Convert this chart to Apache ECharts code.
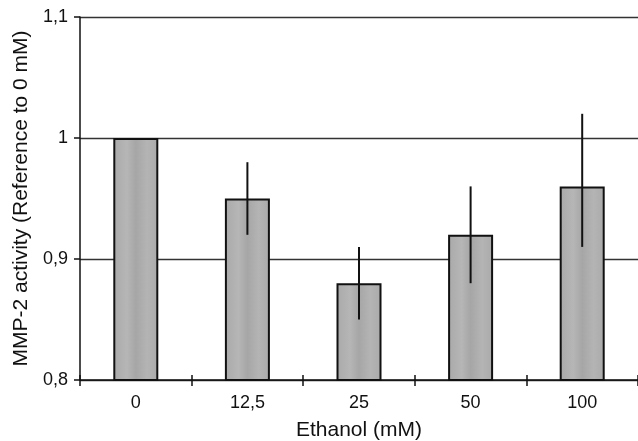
<!DOCTYPE html>
<html>
<head>
<meta charset="utf-8">
<script src="https://cdn.jsdelivr.net/npm/echarts@6/dist/echarts.min.js"></script>
<style>
  html, body { margin: 0; padding: 0; background: #fff; }
  #main { width: 638px; height: 441px; }
</style>
</head>
<body>
<div id="main"></div>
<script>
const categories = ["0", "12,5", "25", "50", "100"];
const activity = [1.0, 0.95, 0.88, 0.92, 0.96];
const errLow = [1.0, 0.92, 0.85, 0.88, 0.91];
const errHigh = [1.0, 0.98, 0.91, 0.96, 1.02];

const chart = echarts.init(document.getElementById("main"), null, { renderer: "canvas" });

const font = "Liberation Sans, Arial, sans-serif";
const fmt = (v) => String(Math.round(v * 10) / 10).replace(".", ",");

// error bars without caps
function renderError(params, api) {
  const i = api.value(0);
  if (api.value(1) === api.value(2)) return null;
  const top = api.coord([i, api.value(2)]);
  const bot = api.coord([i, api.value(1)]);
  return {
    type: "line",
    shape: { x1: top[0], y1: top[1], x2: bot[0], y2: bot[1] },
    style: { stroke: "#111", lineWidth: 2 },
  };
}

const option = {
  animation: false,
  grid: { left: 80, right: 0, top: 17, bottom: 61, outerBoundsMode: "none", containLabel: false },
  xAxis: [
    {
      type: "category",
      data: categories,
      name: "Ethanol (mM)",
      nameLocation: "middle",
      nameGap: 40,
      nameTextStyle: { fontFamily: font, fontSize: 21, color: "#111" },
      axisLine: { lineStyle: { color: "#111", width: 1.5 } },
      axisTick: { show: true, length: 6, lineStyle: { color: "#111", width: 1.5 } },
      axisLabel: { fontFamily: font, fontSize: 18, color: "#111", margin: 14 },
    },
    {
      type: "category",
      data: categories,
      position: "bottom",
      axisLine: { show: false },
      axisTick: { show: true, inside: true, length: 5, lineStyle: { color: "#111", width: 1.5 } },
      axisLabel: { show: false },
    },
  ],
  yAxis: {
    type: "value",
    min: 0.8,
    max: 1.1,
    interval: 0.1,
    name: "MMP-2 activity (Reference to 0 mM)",
    nameLocation: "middle",
    nameGap: 48,
    nameTextStyle: { fontFamily: font, fontSize: 21, color: "#111" },
    axisLine: { show: true, lineStyle: { color: "#111", width: 1.5 } },
    axisTick: { show: true, length: 6, lineStyle: { color: "#111", width: 1.5 } },
    axisLabel: { fontFamily: font, fontSize: 18, color: "#111", margin: 12, formatter: fmt },
    splitLine: { lineStyle: { color: "#333", width: 1.3 } },
  },
  series: [
    {
      name: "MMP-2",
      type: "bar",
      data: activity,
      barWidth: 45,
      itemStyle: {
        color: new echarts.graphic.LinearGradient(0, 0, 1, 0, [
          { offset: 0, color: "#a9a9a9" },
          { offset: 0.3, color: "#b6b6b6" },
          { offset: 0.5, color: "#a6a6a6" },
          { offset: 0.75, color: "#b4b4b4" },
          { offset: 1, color: "#aaaaaa" },
        ]),
        borderColor: "#111",
        borderWidth: 2,
      },
    },
    {
      name: "Error",
      type: "custom",
      renderItem: renderError,
      data: categories.map((c, i) => [i, errLow[i], errHigh[i]]),
      z: 10,
    },
  ],
};

chart.setOption(option, true);
</script>
</body>
</html>
